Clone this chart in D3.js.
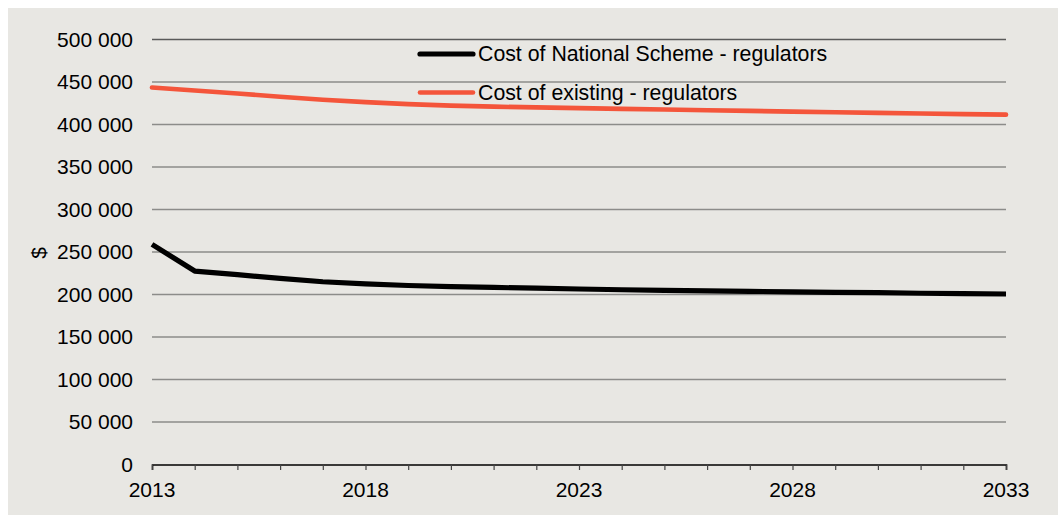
<!DOCTYPE html>
<html>
<head>
<meta charset="utf-8">
<script src="https://cdn.jsdelivr.net/npm/d3@7/dist/d3.min.js"></script>
<style>
  html, body { margin: 0; padding: 0; background: #ffffff; }
  svg { display: block; }
  text { font-family: "Liberation Sans", Arial, sans-serif; fill: #000; }
</style>
</head>
<body>
<svg id="chart" width="1058" height="515"></svg>
<script>
// Annual cost of regulators, 2013–2033
const years = d3.range(2013, 2034);
const nationalScheme = [259000, 227600, 223300, 219000, 215000, 212500, 210600, 209300, 208300, 207400,
                        206500, 205600, 204900, 204300, 203700, 203100, 202600, 202100, 201500, 201000, 200600];
const existing = [443500, 440000, 436500, 432600, 429200, 426300, 424000, 422200, 421000, 420100,
                  419300, 418400, 417600, 416800, 416000, 415200, 414400, 413700, 413000, 412200, 411600];
const yTicks = d3.range(0, 500001, 50000);
const xTickLabels = [2013, 2018, 2023, 2028, 2033];
const seriesNames = ["Cost of National Scheme - regulators", "Cost of existing - regulators"];
const seriesColors = ["#000000", "#f4553b"];

const svg = d3.select("#chart");

// panel background
svg.append("rect").attr("x", 8).attr("y", 8).attr("width", 1050).attr("height", 507).attr("fill", "#e8e7e3");

const x = d3.scaleLinear().domain([2013, 2033]).range([152, 1006]);
const y = d3.scaleLinear().domain([0, 500000]).range([464.5, 39.5]);

// horizontal gridlines
svg.append("g").selectAll("line").data(yTicks.filter(d => d > 0)).join("line")
  .attr("x1", x(2013)).attr("x2", x(2033))
  .attr("y1", d => y(d)).attr("y2", d => y(d))
  .attr("stroke", d => d === 500000 ? "#5a5a5a" : "#8c8c8a")
  .attr("stroke-width", 1.4);

// y axis labels
const fmt = d => d3.format(",")(d).replace(/,/g, " ");
svg.append("g").selectAll("text").data(yTicks).join("text")
  .attr("x", 133).attr("y", d => y(d)).attr("dy", "0.35em")
  .attr("text-anchor", "end").attr("font-size", 21)
  .text(fmt);

// x axis with a tick every year
const xAxis = d3.axisBottom(x).tickValues(years).tickSize(5.5).tickFormat("");
const gx = svg.append("g").attr("transform", `translate(0,${y(0)})`).call(xAxis);
gx.select(".domain").attr("stroke", "#000").attr("stroke-width", 1.6);
gx.selectAll(".tick line").attr("stroke", "#444").attr("stroke-width", 1.2);

svg.append("g").selectAll("text").data(xTickLabels).join("text")
  .attr("x", d => x(d)).attr("y", 497)
  .attr("text-anchor", "middle").attr("font-size", 21)
  .text(d => d);

// y axis title
svg.append("text").attr("transform", "translate(46,253) rotate(-90)")
  .attr("text-anchor", "middle").attr("font-size", 21).text("$");

// series lines
const line = d3.line().x((d, i) => x(years[i])).y(d => y(d));
[nationalScheme, existing].forEach((s, k) => {
  svg.append("path").datum(s)
    .attr("d", line)
    .attr("fill", "none")
    .attr("stroke", seriesColors[k])
    .attr("stroke-width", k === 0 ? 5.2 : 4.6)
    .attr("stroke-linejoin", "round")
    .attr("stroke-linecap", k === 0 ? "butt" : "round");
});

// legend
const legend = svg.append("g");
seriesNames.forEach((name, k) => {
  const ly = 54 + k * 38.5;
  legend.append("line").attr("x1", 420).attr("x2", 473).attr("y1", ly).attr("y2", ly)
    .attr("stroke", seriesColors[k]).attr("stroke-width", k === 0 ? 5.2 : 4.6)
    .attr("stroke-linecap", "round");
  legend.append("text").attr("x", 478).attr("y", ly).attr("dy", "0.35em")
    .attr("font-size", 21.3).text(name);
});
</script>
</body>
</html>
